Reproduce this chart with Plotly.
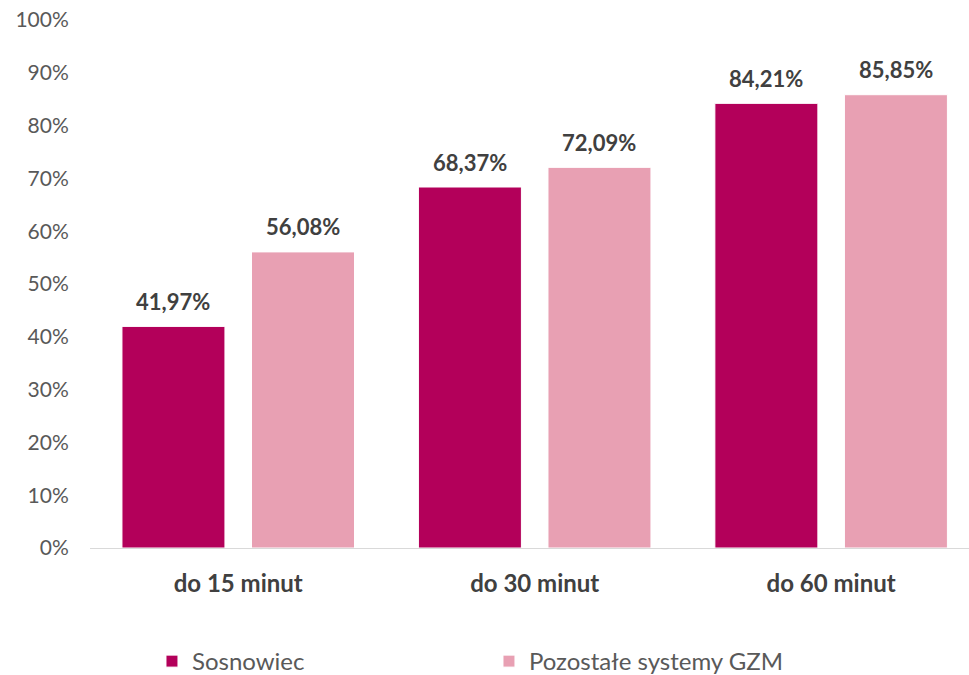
import plotly.graph_objects as go

categories = ["do 15 minut", "do 30 minut", "do 60 minut"]
sosnowiec = [41.97, 68.37, 84.21]
pozostale = [56.08, 72.09, 85.85]
series_names = ["Sosnowiec", "Pozostałe systemy GZM"]
colors = ["#B3005A", "#E8A0B3"]
y_ticks = list(range(0, 101, 10))

FONT = "Lato, Carlito, sans-serif"


def fmt(v):
    return f"{v:.2f}".replace(".", ",") + "%"


fig = go.Figure()
for name, vals, col in zip(series_names, [sosnowiec, pozostale], colors):
    fig.add_trace(go.Bar(
        x=categories, y=vals, name=name,
        marker=dict(color=col, line=dict(color="white", width=1)),
    ))

# value labels above each bar, shifted horizontally to the bar's slot in its group
for vals, dx in zip([sosnowiec, pozostale], [-64.75, 64.75]):
    for cat, v in zip(categories, vals):
        fig.add_annotation(
            x=cat, y=v, xref="x", yref="y", text=fmt(v), showarrow=False,
            xshift=dx, yshift=9.5, yanchor="bottom",
            font=dict(family=FONT, size=22, color="#404040", weight="bold"),
        )

fig.update_layout(
    width=969, height=675,
    margin=dict(l=90, r=0, t=20, b=127),
    plot_bgcolor="white", paper_bgcolor="white",
    barmode="group", bargap=0.126, bargroupgap=0.205,
    font=dict(family=FONT, color="#595959"),
    xaxis=dict(
        range=[-0.5, 2.465], showgrid=False, showline=True, linecolor="#D9D9D9", linewidth=1,
        tickfont=dict(size=24, color="#404040", weight="bold"), ticks="outside", ticklen=14,
        tickcolor="rgba(0,0,0,0)",
    ),
    yaxis=dict(
        range=[0, 100], tickvals=y_ticks, ticktext=[f"{t}%" for t in y_ticks],
        showgrid=False, zeroline=False, showline=False,
        tickfont=dict(size=21, color="#595959"), ticks="outside", ticklen=16,
        tickcolor="rgba(0,0,0,0)",
    ),
    legend=dict(
        orientation="h", x=0.0705, y=0.0533, xanchor="left", yanchor="top",
        yref="container",
        entrywidth=292, entrywidthmode="pixels",
        font=dict(size=24, color="#595959"),
    ),
)

fig.write_html("out.html")
